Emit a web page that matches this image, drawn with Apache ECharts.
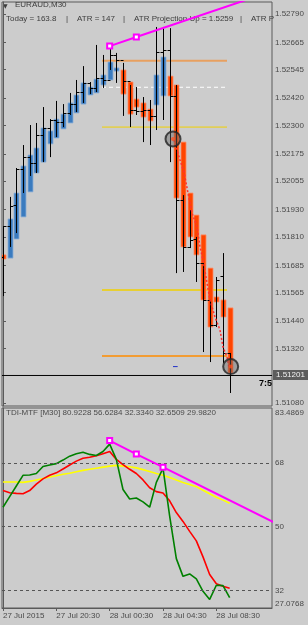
<!DOCTYPE html>
<html><head><meta charset="utf-8">
<script src="https://cdn.jsdelivr.net/npm/echarts@6/dist/echarts.min.js"></script>
<style>html,body{margin:0;padding:0;background:#cccccc;}#c{width:308px;height:625px;}</style>
</head><body><div id="c"></div>
<script>
// ---------- data ----------
const bars = [0,1,2,3,4,5,6,7,8,9,10,11,12,13,14,15,16,17,18,19,20,21,22,23,24,25,26,27,28,29,30,31,32,33,34];
const haOpen  = [1.51731,1.51717,1.51801,1.51898,1.52008,1.52091,1.52139,1.52219,1.52245,1.52285,1.52311,1.52355,1.52394,1.52434,1.52443,1.52478,1.52500,1.52539,1.52544,1.52491,1.52416,1.52399,1.52372,1.52390,1.52430,1.52517,1.52478,1.52227,1.52003,1.51906,1.51819,1.51673,1.51546,1.51533,1.51498];
const haClose = [1.51713,1.51889,1.52003,1.52122,1.52170,1.52201,1.52289,1.52276,1.52328,1.52350,1.52399,1.52434,1.52487,1.52469,1.52504,1.52522,1.52579,1.52553,1.52438,1.52350,1.52381,1.52337,1.52320,1.52522,1.52601,1.52430,1.51981,1.51766,1.51810,1.51731,1.51533,1.51414,1.51524,1.51458,1.51212];
const barOpen  = [1.51722,1.51858,1.51950,1.52109,1.52161,1.52135,1.52258,1.52289,1.52324,1.52315,1.52355,1.52394,1.52447,1.52487,1.52465,1.52509,1.52500,1.52610,1.52588,1.52495,1.52368,1.52364,1.52368,1.52342,1.52623,1.52632,1.52430,1.51972,1.51766,1.51801,1.51695,1.51533,1.51423,1.51638,1.51300];
const barHigh  = [1.51858,1.51986,1.52113,1.52214,1.52302,1.52311,1.52381,1.52328,1.52408,1.52394,1.52443,1.52500,1.52561,1.52491,1.52654,1.52610,1.52662,1.52619,1.52575,1.52478,1.52469,1.52425,1.52412,1.52733,1.52733,1.52728,1.52478,1.51994,1.51928,1.51810,1.51695,1.51533,1.51634,1.51739,1.51300];
const barLow   = [1.51550,1.51766,1.51827,1.52003,1.52078,1.52091,1.52139,1.52161,1.52249,1.52293,1.52346,1.52359,1.52399,1.52438,1.52447,1.52465,1.52544,1.52487,1.52342,1.52293,1.52346,1.52227,1.52214,1.52280,1.52324,1.52139,1.51651,1.51656,1.51761,1.51612,1.51304,1.51260,1.51414,1.51256,1.51124];
const barClose = [1.51858,1.51946,1.52109,1.52161,1.52135,1.52258,1.52289,1.52324,1.52315,1.52355,1.52394,1.52447,1.52487,1.52465,1.52509,1.52500,1.52610,1.52588,1.52495,1.52368,1.52364,1.52368,1.52342,1.52623,1.52632,1.52430,1.51972,1.51766,1.51797,1.51695,1.51533,1.51423,1.51621,1.51300,1.51201];

const priceTicks = [1.52790,1.52665,1.52545,1.52420,1.52300,1.52175,1.52055,1.51930,1.51810,1.51685,1.51565,1.51440,1.51320,1.51080];
const currentPrice = 1.51201;

const levelFrom = 14.85, levelTo = 33.6;
const levelPrices = [1.52585, 1.52468, 1.52293, 1.51577, 1.51287];

const trendPriceX = [16, 20, 38];
const trendPriceY = [1.52649, 1.52689, 1.52867];

const projX = [25.65,26.55,27.15,27.75,28.35,29.1,29.55,30.0,30.6,31.05,31.8,32.55,33.0,33.6,33.9];
const projY = [1.52236,1.52148,1.52095,1.52003,1.51915,1.51854,1.51766,1.51709,1.51608,1.51533,1.51458,1.51401,1.51326,1.51282,1.51238];

const circleX = [25.5, 34.15];
const circleY = [1.52241, 1.51240];
const dashX = [25.5, 26.2];
const dashY = 1.51240;

const tdiTicks = [83.4869, 68, 50, 32, 27.0768];
const tdiLevels = [68, 50, 32];
const rsiGreen   = [55.5,58.5,61.5,64.5,64.6,65.0,67.0,67.4,67.8,68.8,69.9,70.6,71.0,70.4,70.1,71.2,73.3,69.0,60.5,57.8,58.1,57.0,55.5,62.5,66.5,53.0,41.0,36.0,36.7,35.3,31.8,29.5,33.5,33.4,29.982];
const signalRed  = [60.2,59.6,59.4,59.3,60.2,62.0,63.5,64.5,65.2,66.3,67.4,68.5,69.3,69.6,70.0,70.6,71.2,69.0,67.5,66.2,65.0,63.2,61.0,59.9,59.5,57.3,54.0,51.5,48.7,46.0,41.5,36.5,33.9,33.2,32.6509];
const baseYellow = [62.6,62.6,62.6,62.5,62.8,63.2,63.6,64.0,64.4,64.8,65.1,65.5,65.9,66.2,66.5,66.8,67.1,67.3,67.1,66.9,66.6,66.1,65.6,65.0,64.5,63.9,63.2,62.5,61.9,61.3,60.3,59.3,58.3,57.5,56.6284];
const trendTdiX = [16, 20, 24, 41];
const trendTdiY = [74.3, 70.5, 66.8, 50.9];

const timeTickIdx = [0, 8, 16, 24, 32];
const timeTickLabels = ['27 Jul 2015', '27 Jul 20:30', '28 Jul 00:30', '28 Jul 04:30', '28 Jul 08:30'];

// ---------- chart ----------
const FONT = 'Liberation Sans';
const AX = '#4a4a4a';
const X_MIN = -0.15, X_MAX = 40.35;
const chart = echarts.init(document.getElementById('c'), null, {renderer: 'canvas'});

function renderCandle(params, api) {
  const i = api.value(0);
  const hO = api.coord([i, api.value(1)]);
  const hC = api.coord([i, api.value(2)]);
  const o = api.coord([i, api.value(3)]);
  const h = api.coord([i, api.value(4)]);
  const l = api.coord([i, api.value(5)]);
  const c = api.coord([i, api.value(6)]);
  const w = api.size([1, 0])[0];
  const bw = Math.max(3, Math.round(w * 0.72));
  const up = api.value(2) >= api.value(1);
  const top = Math.min(hO[1], hC[1]), bot = Math.max(hO[1], hC[1]);
  const cx = Math.round(h[0]) + 0.5;
  return {type: 'group', children: [
    {type: 'rect', shape: {x: cx - bw / 2, y: top, width: bw, height: Math.max(1, bot - top)},
      style: {fill: up ? '#3a7bbf' : '#ff4500', stroke: up ? 'rgba(140,175,215,0.8)' : 'rgba(255,140,100,0.8)', lineWidth: 1}},
    {type: 'line', shape: {x1: cx, y1: h[1], x2: cx, y2: l[1]}, style: {stroke: '#000', lineWidth: 1}},
    {type: 'line', shape: {x1: cx - 3, y1: Math.round(o[1]) + 0.5, x2: cx, y2: Math.round(o[1]) + 0.5}, style: {stroke: '#000', lineWidth: 1}},
    {type: 'line', shape: {x1: cx, y1: Math.round(c[1]) + 0.5, x2: cx + 3, y2: Math.round(c[1]) + 0.5}, style: {stroke: '#000', lineWidth: 1}}
  ]};
}

const levelStyles = [
  {color: '#e8a060', width: 2, type: 'solid'},
  {color: '#ffffff', width: 1, type: [4, 3]},
  {color: '#f0d000', width: 1, type: 'solid'},
  {color: '#f0d000', width: 1.5, type: 'solid'},
  {color: '#ff8c00', width: 1.5, type: 'solid'}
];

const series = [];
levelPrices.forEach((p, k) => {
  series.push({type: 'line', xAxisIndex: 0, yAxisIndex: 0, z: 1, symbol: 'none', silent: true,
    data: [[levelFrom, p], [levelTo, p]], lineStyle: levelStyles[k]});
});
// current price line across the whole main panel
series.push({type: 'line', xAxisIndex: 0, yAxisIndex: 0, z: 3, symbol: 'none', silent: true,
  data: [[X_MIN, currentPrice], [X_MAX, currentPrice]], lineStyle: {color: '#000', width: 1}});

series.push({type: 'custom', xAxisIndex: 0, yAxisIndex: 0, z: 2, clip: true, renderItem: renderCandle,
  encode: {x: 0, y: [1, 2, 3, 4, 5, 6]},
  data: bars.map((b, k) => [b, haOpen[k], haClose[k], barOpen[k], barHigh[k], barLow[k], barClose[k]])});
series.push({type: 'line', xAxisIndex: 0, yAxisIndex: 0, z: 4, data: dashX.map(x => [x, dashY]), symbol: 'none',
  lineStyle: {color: '#2030c8', width: 1}});
series.push({type: 'line', xAxisIndex: 0, yAxisIndex: 0, z: 5, data: projX.map((x, k) => [x, projY[k]]), symbol: 'none',
  lineStyle: {color: '#ff3030', width: 1.5, type: [2, 2]}});
series.push({type: 'scatter', xAxisIndex: 0, yAxisIndex: 0, z: 6, symbol: 'circle', symbolSize: 15,
  data: circleX.map((x, k) => [x, circleY[k]]),
  itemStyle: {color: 'rgba(100,100,100,0.55)', borderColor: '#222', borderWidth: 2}});
series.push({type: 'scatter', xAxisIndex: 0, yAxisIndex: 0, z: 7, symbol: 'circle', symbolSize: 4,
  data: circleX.map((x, k) => [x, circleY[k]]), itemStyle: {color: '#ff5020'}});
series.push({type: 'line', xAxisIndex: 0, yAxisIndex: 0, z: 8, clip: true,
  data: trendPriceX.map((x, k) => ({value: [x, trendPriceY[k]], symbol: k < 2 ? 'emptyRect' : 'none'})),
  symbolSize: 5, lineStyle: {color: '#ff00ff', width: 2}, itemStyle: {color: '#ff00ff', borderWidth: 1.5}});

// lower panel
series.push({type: 'line', xAxisIndex: 1, yAxisIndex: 1, z: 1, data: [],
  markLine: {silent: true, symbol: 'none', animation: false, label: {show: false},
    lineStyle: {color: '#555', width: 1, type: [3, 3]}, data: tdiLevels.map(v => ({yAxis: v}))}});
series.push({type: 'line', xAxisIndex: 1, yAxisIndex: 1, z: 2, symbol: 'none', data: bars.map((b, k) => [b, baseYellow[k]]),
  lineStyle: {color: '#ffff00', width: 1.6}});
series.push({type: 'line', xAxisIndex: 1, yAxisIndex: 1, z: 3, symbol: 'none', data: bars.map((b, k) => [b, signalRed[k]]),
  lineStyle: {color: '#ff0000', width: 1.6}});
series.push({type: 'line', xAxisIndex: 1, yAxisIndex: 1, z: 4, symbol: 'none', data: bars.map((b, k) => [b, rsiGreen[k]]),
  lineStyle: {color: '#008000', width: 1.6}});
series.push({type: 'line', xAxisIndex: 1, yAxisIndex: 1, z: 5, clip: true,
  data: trendTdiX.map((x, k) => ({value: [x, trendTdiY[k]], symbol: k < 3 ? 'emptyRect' : 'none'})),
  symbolSize: 5, lineStyle: {color: '#ff00ff', width: 2}, itemStyle: {color: '#ff00ff', borderWidth: 1.5}});

const txt = (x, y, t, extra) => Object.assign({type: 'text', left: x, top: y, z: 0, silent: true,
  style: {text: t, fill: '#3c3c3c', font: '8px "Liberation Sans"'}}, extra || {});

const tdiMax = tdiTicks[0], tdiMin = tdiTicks[tdiTicks.length - 1];

chart.setOption({
  animation: false,
  backgroundColor: '#cccccc',
  grid: [
    {left: 2, top: 2, width: 270, height: 404, show: true, borderColor: '#5a5a5a', borderWidth: 1, backgroundColor: 'transparent'},
    {left: 2, top: 408, width: 270, height: 200, show: true, borderColor: '#5a5a5a', borderWidth: 1, backgroundColor: 'transparent'}
  ],
  xAxis: [
    {type: 'value', gridIndex: 0, min: X_MIN, max: X_MAX, show: false},
    {type: 'value', gridIndex: 1, min: X_MIN, max: X_MAX,
      axisLine: {show: true, lineStyle: {color: '#5a5a5a'}},
      axisTick: {show: true, customValues: timeTickIdx, length: 3, lineStyle: {color: '#5a5a5a'}},
      axisLabel: {customValues: timeTickIdx, formatter: v => timeTickLabels[timeTickIdx.indexOf(Math.round(v))],
        align: 'left', fontFamily: FONT, fontSize: 8, color: AX, margin: 4},
      splitLine: {show: false}}
  ],
  yAxis: [
    {type: 'value', gridIndex: 0, position: 'right', min: 1.510668, max: 1.528428, scale: true,
      axisLine: {show: true, lineStyle: {color: '#5a5a5a'}},
      axisTick: {show: true, customValues: priceTicks, length: 3, lineStyle: {color: '#5a5a5a'}},
      axisLabel: {customValues: priceTicks, formatter: v => v.toFixed(5), fontFamily: FONT, fontSize: 8, color: AX, margin: 3},
      splitLine: {show: false}},
    {type: 'value', gridIndex: 1, position: 'right', min: tdiMin, max: tdiMax, scale: true,
      axisLine: {show: true, lineStyle: {color: '#5a5a5a'}},
      axisTick: {show: false},
      axisLabel: {customValues: tdiTicks, fontFamily: FONT, fontSize: 8, color: AX, margin: 3,
        formatter: v => v === tdiMax ? '{t|' + v + '}' : (v === tdiMin ? '{b|' + v + '}' : String(v)),
        rich: {t: {padding: [10, 0, 0, 0], fontFamily: FONT, fontSize: 8, color: AX},
               b: {padding: [0, 0, 8, 0], fontFamily: FONT, fontSize: 8, color: AX}}},
      splitLine: {show: false}}
  ],
  series: series
});

// price box on the right axis, placed through the axis scale
const py = chart.convertToPixel({yAxisIndex: 0}, currentPrice);
const axisX = chart.convertToPixel({xAxisIndex: 0}, X_MAX);
chart.setOption({
  graphic: [
    txt(3, 3, '▼', {style: {text: '▼', fill: '#3c3c3c', font: '6px "DejaVu Sans"'}}),
    txt(15, 1, 'EURAUD,M30'),
    txt(6, 15, 'Today = 163.8'),
    txt(66, 15, '|'),
    txt(77, 15, 'ATR = 147'),
    txt(123, 15, '|'),
    txt(134, 15, 'ATR Projection Up = 1.5259'),
    txt(240, 15, '|'),
    txt(251, 15, 'ATR P'),
    txt(259, 379, '7:5', {style: {text: '7:5', fill: '#000', font: 'bold 9px "Liberation Sans"'}}),
    txt(6, 409, 'TDI-MTF [M30] 80.9228 56.6284 32.3340 32.6509 29.9820', {style: {text: 'TDI-MTF [M30] 80.9228 56.6284 32.3340 32.6509 29.9820', fill: '#4a4a4a', font: '8px "Liberation Sans"'}}),
    {type: 'rect', z: 10, silent: true, shape: {x: axisX + 1, y: Math.round(py) - 5, width: 308 - axisX - 1, height: 10},
      style: {fill: '#5c5c5c'}},
    {type: 'text', z: 11, silent: true, left: axisX + 4, top: Math.round(py) - 4,
      style: {text: currentPrice.toFixed(5), fill: '#f2f2f2', font: '8px "Liberation Sans"'}}
  ]
});
</script></body></html>
